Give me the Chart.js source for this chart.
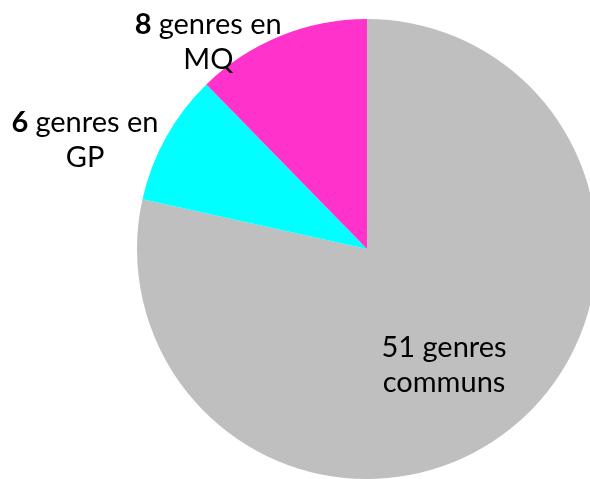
<!DOCTYPE html>
<html>
<head>
<meta charset="utf-8">
<script src="https://cdn.jsdelivr.net/npm/chart.js@4.4.0/dist/chart.umd.min.js"></script>
<style>
  html, body { margin: 0; padding: 0; background: #ffffff; overflow: hidden; width: 590px; height: 479px; }
  #wrap { position: absolute; left: 0; top: 0; width: 734px; height: 498px; }
</style>
</head>
<body>
<div id="wrap"><canvas id="pieChart" width="734" height="498"></canvas></div>
<script>
const categories = ['communs', 'GP', 'MQ'];
const counts = [51, 6, 8];
const sliceColors = ['#BFBFBF', '#00FFFF', '#FF33CC'];

// label text: bold number followed by normal words, split in two lines
const labelLines = [
  ['genres', 'communs'],
  ['genres en', 'GP'],
  ['genres en', 'MQ']
];

// hand placement of each label, in radius units from the pie centre (Excel style)
const labelPlacement = [
  { x: 0.335, y: 0.505 },
  { x: -1.226, y: -0.474 },
  { x: -0.69, y: -0.90 }
];

const FONT = 'Lato, "Open Sans", sans-serif';

const sliceLabelPlugin = {
  id: 'sliceLabels',
  afterDatasetsDraw(chart) {
    const { ctx } = chart;
    const meta = chart.getDatasetMeta(0);
    const size = 29;
    const lineHeight = 35;
    ctx.save();
    ctx.fillStyle = '#000000';
    ctx.textBaseline = 'middle';
    meta.data.forEach((arc, i) => {
      const r = arc.outerRadius;
      const cx = arc.x + labelPlacement[i].x * r;
      const cy = arc.y + labelPlacement[i].y * r;
      const first = [String(counts[i]) + ' ', labelLines[i][0]];
      ctx.font = `${i === 0 ? '' : 'bold '}${size}px ${FONT}`;
      const w1 = ctx.measureText(first[0]).width;
      ctx.font = `${size}px ${FONT}`;
      const w2 = ctx.measureText(first[1]).width;
      const x = cx - (w1 + w2) / 2;
      const y1 = cy - lineHeight / 2;
      ctx.textAlign = 'left';
      ctx.font = `${i === 0 ? '' : 'bold '}${size}px ${FONT}`;
      ctx.fillText(first[0], x, y1);
      ctx.font = `${size}px ${FONT}`;
      ctx.fillText(first[1], x + w1, y1);
      ctx.textAlign = 'center';
      ctx.fillText(labelLines[i][1], cx, cy + lineHeight / 2);
    });
    ctx.restore();
  }
};

new Chart(document.getElementById('pieChart'), {
  type: 'pie',
  plugins: [sliceLabelPlugin],
  data: {
    labels: categories,
    datasets: [{
      data: counts,
      backgroundColor: sliceColors,
      borderWidth: 0
    }]
  },
  options: {
    responsive: false,
    animation: false,
    layout: { padding: { top: 19, bottom: 19, left: 0, right: 0 } },
    plugins: {
      legend: { display: false },
      tooltip: { enabled: false }
    }
  }
});
</script>
</body>
</html>
